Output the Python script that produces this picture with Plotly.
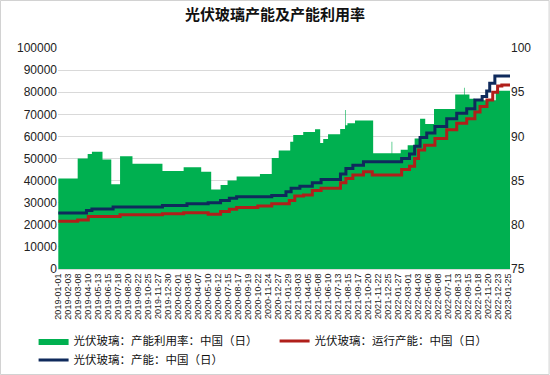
import datetime as dt
import plotly.graph_objects as go

# ---- data (step series, value holds until next date) ----
util_dates = ["2019-01-01", "2019-03-06", "2019-04-08", "2019-04-22", "2019-05-27", "2019-06-25",
              "2019-07-24", "2019-09-03", "2019-12-11", "2020-02-19", "2020-04-17", "2020-05-20",
              "2020-06-20", "2020-07-13", "2020-08-12", "2020-10-28", "2020-12-06", "2020-12-29",
              "2021-02-05", "2021-02-15", "2021-03-20", "2021-04-28", "2021-05-15", "2021-05-25",
              "2021-06-10", "2021-07-20", "2021-08-05", "2021-08-07", "2021-08-13", "2021-09-07",
              "2021-11-06", "2022-01-06", "2022-01-08", "2022-02-05", "2022-02-28", "2022-03-23",
              "2022-04-10", "2022-04-27", "2022-05-26", "2022-08-04", "2022-09-02", "2022-09-04",
              "2022-09-20", "2022-10-07", "2022-12-16", "2023-02-01"]
util_values = [85.25, 87.5, 88.0, 88.25, 87.4, 84.6,
               87.75, 86.9, 86.1, 86.5, 86.0, 84.0,
               84.5, 85.0, 85.45, 85.75, 87.55, 88.4,
               89.4, 90.15, 90.5, 90.8, 89.25, 89.7,
               90.25, 90.85, 93.0, 91.25, 91.5, 91.8,
               88.1, 89.4, 88.1, 88.5, 89.0, 89.75,
               92.0, 91.4, 93.1, 94.75, 95.5, 94.75,
               94.25, 94.1, 95.15, 95.15]

run_dates = ["2019-01-01", "2019-03-06", "2019-04-10", "2019-07-24", "2019-12-11", "2020-02-19",
             "2020-05-10", "2020-06-20", "2020-07-19", "2020-08-12", "2020-10-21", "2020-12-06",
             "2021-02-02", "2021-02-20", "2021-03-21", "2021-04-19", "2021-05-18", "2021-07-21",
             "2021-08-08", "2021-08-31", "2021-10-05", "2021-11-03", "2022-02-08", "2022-03-06",
             "2022-03-23", "2022-04-05", "2022-04-25", "2022-05-29", "2022-07-07", "2022-08-09",
             "2022-09-11", "2022-10-08", "2022-10-25", "2022-11-17", "2022-12-06", "2022-12-22",
             "2023-01-05", "2023-02-01"]
run_values = [21600, 22200, 23800, 24500, 25000, 25500,
              24800, 26000, 27000, 27800, 28500, 29500,
              31000, 33000, 33500, 35500, 36500, 39000,
              41000, 42500, 44000, 42500, 45000, 46500,
              50000, 53800, 56000, 59000, 63000, 66000,
              68000, 71000, 73500, 76500, 80000, 82800,
              83300, 83300]

cap_dates = ["2019-01-01", "2019-04-04", "2019-04-22", "2019-07-01", "2019-12-11", "2020-03-01",
             "2020-05-10", "2020-06-20", "2020-07-19", "2020-08-12", "2020-12-06", "2021-01-22",
             "2021-02-08", "2021-03-09", "2021-04-19", "2021-05-18", "2021-07-21", "2021-08-08",
             "2021-08-31", "2021-10-05", "2022-02-08", "2022-03-06", "2022-03-23", "2022-04-10",
             "2022-05-02", "2022-05-29", "2022-07-07", "2022-08-09", "2022-09-11", "2022-10-08",
             "2022-11-01", "2022-11-16", "2022-11-26", "2022-12-13", "2023-02-01"]
cap_values = [25300, 26500, 27200, 28000, 28700, 29500,
              30000, 31000, 32000, 32700, 33300, 35000,
              36500, 37500, 39000, 40500, 43000, 45500,
              47000, 48500, 50000, 52000, 55500, 59500,
              61500, 64500, 68000, 70500, 72500, 76500,
              78000, 80500, 84000, 87300, 87300]

tick_start = "2019-01-01"
tick_step_days = 33
tick_count = 46

start = dt.date.fromisoformat(tick_start)
tickvals = [(start + dt.timedelta(days=tick_step_days * i)).isoformat() for i in range(tick_count)]

FONT = "Liberation Sans, Arial, Noto Sans CJK SC, sans-serif"
CJK = "Noto Sans CJK SC, Liberation Sans, sans-serif"

W, H = 550, 375
ML, MR, MT, MB = 58, 40, 48, 106
PW, PH = W - ML - MR, H - MT - MB

fig = go.Figure()
# utilisation area lives on the base axis (right side) so the lines overlay it
fig.add_trace(go.Scatter(
    x=util_dates, y=util_values, name="光伏玻璃：产能利用率：中国（日）",
    mode="lines", line=dict(shape="hv", width=0, color="#00b050"),
    fill="tozeroy", fillcolor="#00b050", yaxis="y"))
fig.add_trace(go.Scatter(
    x=run_dates, y=run_values, name="光伏玻璃：运行产能：中国（日）",
    mode="lines", line=dict(shape="hv", width=3, color="#b01f1a"), yaxis="y2"))
fig.add_trace(go.Scatter(
    x=cap_dates, y=cap_values, name="光伏玻璃：产能：中国（日）",
    mode="lines", line=dict(shape="hv", width=3, color="#0f2a5c"), yaxis="y2"))

fig.update_layout(
    width=W, height=H,
    margin=dict(l=ML, r=MR, t=MT, b=MB, autoexpand=False),
    paper_bgcolor="white", plot_bgcolor="white",
    font=dict(family=FONT, size=12, color="#222"),
    title=dict(text="<b>光伏玻璃产能及产能利用率</b>", x=0.5, xanchor="center", y=0.975, yanchor="top",
               font=dict(family=CJK, size=15, color="#111")),
    showlegend=True,
    legend=dict(orientation="h", x=-0.054, xanchor="left", y=-0.26, yanchor="top",
                font=dict(family=CJK, size=11.5, color="#111"),
                entrywidth=196, entrywidthmode="pixels", tracegroupgap=0,
                bgcolor="rgba(0,0,0,0)"),
    xaxis=dict(type="date", range=["2018-12-31", "2023-02-01"], automargin=False,
               tickvals=tickvals, tickformat="%Y-%m-%d", tickangle=-90,
               tickfont=dict(family=FONT, size=9, color="#222"),
               showgrid=False, showline=True, linecolor="#d9d9d9", ticks=""),
    yaxis=dict(range=[75, 100], dtick=5, side="right", showgrid=False, automargin=False,
               tickfont=dict(family=FONT, size=12, color="#222"), zeroline=False, ticks=""),
    yaxis2=dict(range=[0, 100000], dtick=10000, overlaying="y", side="left", automargin=False,
                showgrid=True, gridcolor="#d9d9d9", tickformat="d",
                tickfont=dict(family=FONT, size=12, color="#222"), zeroline=False, ticks=""),
    shapes=[dict(type="rect", xref="paper", yref="paper", x0=-ML/PW + 0.001, x1=1+MR/PW - 0.002,
                 y0=-MB/PH + 0.002, y1=1+MT/PH - 0.002, line=dict(color="#d0d0d0", width=1))],
)

fig.write_html("out.html", config={"displayModeBar": False},
               post_script="document.body.style.margin='0';document.body.style.padding='0';")
